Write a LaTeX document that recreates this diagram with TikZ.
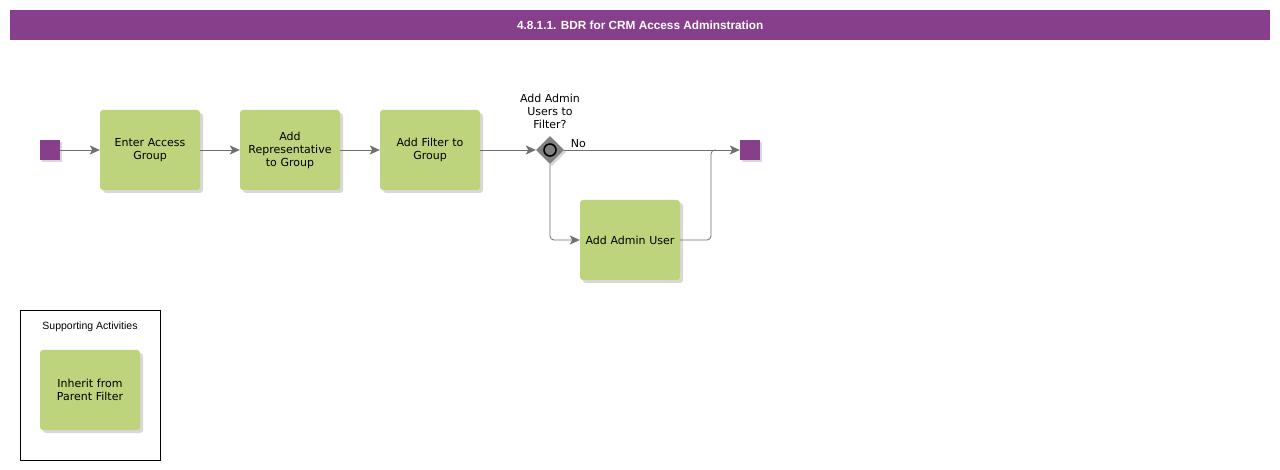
\documentclass[tikz,border=0pt]{standalone}
\usepackage{fontspec}
\setmainfont{DejaVu Sans}
\newfontfamily\arialfont{Liberation Sans}
\usetikzlibrary{arrows.meta,shapes.geometric}
\definecolor{purp}{HTML}{873F8C}
\definecolor{taskg}{HTML}{BDD37C}
\definecolor{edgeg}{HTML}{707070}
\definecolor{gwg}{HTML}{808080}
\tikzset{
  taskbox/.style={draw=none, fill=taskg, rounded corners=3pt, minimum width=100pt, minimum height=80pt,
    align=center, font=\fontsize{11}{13}\selectfont, text width=98pt, inner sep=0pt,
    preaction={fill=black!30, opacity=0.5, transform canvas={shift={(3pt,-3pt)}}}},
  evbox/.style={draw=none, fill=purp, minimum width=20pt, minimum height=20pt, inner sep=0pt,
    preaction={fill=black!30, opacity=0.5, transform canvas={shift={(2pt,-2pt)}}}},
  flow/.style={draw=edgeg, line width=0.8pt, -{Stealth[length=10pt,width=9pt,inset=2.5pt]}, rounded corners=4pt},
  lbl/.style={font=\fontsize{11}{13}\selectfont, align=center, inner sep=0pt}
}
\begin{document}
\begin{tikzpicture}[x=1pt,y=-1pt]
\useasboundingbox (0,0) rectangle (1280,470);
\fill[white] (0,0) rectangle (1280,470);
% title bar
\node[fill=purp, minimum width=1260pt, minimum height=30pt, inner sep=0pt, anchor=north west,
  font=\arialfont\bfseries\fontsize{11.8}{13}\selectfont, text=white] (title) at (10,10) {4.8.1.1. BDR for CRM Access Adminstration};
% events
\node[evbox] (start) at (50,150) {};
\node[evbox] (end) at (750,150) {};
% tasks
\node[taskbox] (t1) at (150,150) {Enter Access\\Group};
\node[taskbox] (t2) at (290,150) {Add\\Representative\\to Group};
\node[taskbox] (t3) at (430,150) {Add Filter to\\Group};
\node[taskbox] (t4) at (630,240) {Add Admin User};
% gateway
\fill[black!30, opacity=0.5] (552,138) -- (566,152) -- (552,166) -- (538,152) -- cycle;
\node[diamond, fill=gwg, minimum width=28pt, minimum height=28pt, inner sep=0pt] (gw) at (550,150) {};
\draw[black, line width=1.6pt] (gw.center) circle (6pt);
\node[lbl, anchor=south] (gwl) at (550,129) {Add Admin\\Users to\\Filter?};
% flows
\draw[flow] (start) -- (t1);
\draw[flow] (t1) -- (t2);
\draw[flow] (t2) -- (t3);
\draw[flow] (t3) -- (gw);
\draw[flow] (gw.east) -- node[lbl, pos=0.08, anchor=south, yshift=2pt] (no) {No} (end);
\draw[flow] (gw.south) |- (t4);
\coordinate (j) at (716,150);
\draw[draw=edgeg, line width=0.8pt, rounded corners=4pt] (t4.east) -- (711,240) -- (711,150) -- (j);
% supporting activities
\draw[black, line width=0.8pt] (20,310) rectangle (160,460);
\node[font=\arialfont\fontsize{10.5}{12}\selectfont, inner sep=0pt] (sup) at (90,327) {Supporting Activities};
\node[taskbox] (t5) at (90,390) {Inherit from\\Parent Filter};
\end{tikzpicture}
\end{document}
